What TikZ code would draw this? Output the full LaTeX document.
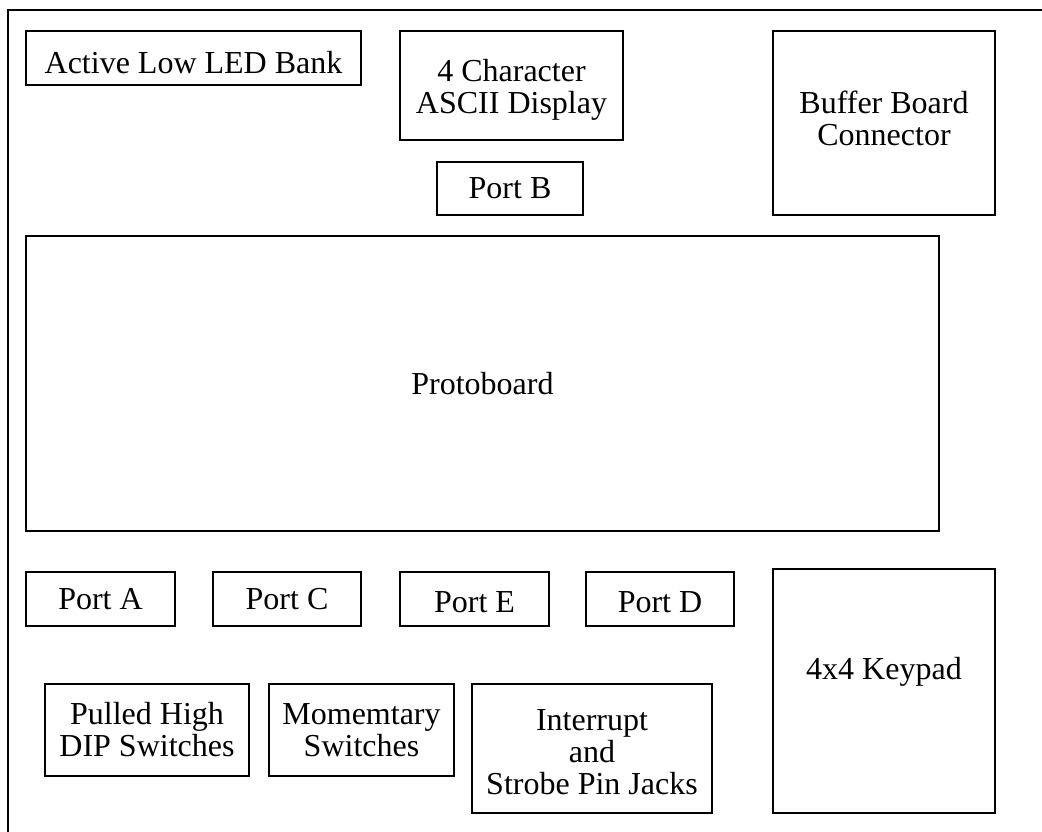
\documentclass[tikz,border=0pt]{standalone}
\usepackage{fontspec}
\setmainfont{Liberation Serif}
\begin{document}
\begin{tikzpicture}[x=1pt,y=-1pt,
  box/.style={draw, line width=2pt, rectangle, inner sep=0pt},
  lbl/.style={inner sep=0pt, align=center, font=\fontsize{32}{32}\selectfont}]
\useasboundingbox (0,0) rectangle (1042,831);
\clip (0,0) rectangle (1042,831);
\draw[line width=2.2pt] (8,10) rectangle (1070,860);
% boxes
\node[box, minimum width=335, minimum height=54] (led) at (193.5,58) {};
\node[box, minimum width=223, minimum height=109] (ascii) at (511.5,85.5) {};
\node[box, minimum width=146, minimum height=53] (portb) at (510,188.5) {};
\node[box, minimum width=222, minimum height=184] (buffer) at (884,123) {};
\node[box, minimum width=913, minimum height=295] (proto) at (482.5,383.5) {};
\node[box, minimum width=149, minimum height=54] (porta) at (100.5,599) {};
\node[box, minimum width=148, minimum height=54] (portc) at (287,599) {};
\node[box, minimum width=149, minimum height=54] (porte) at (474.5,599) {};
\node[box, minimum width=148, minimum height=54] (portd) at (660,599) {};
\node[box, minimum width=222, minimum height=244] (keypad) at (884,691) {};
\node[box, minimum width=204, minimum height=92] (dip) at (147,730) {};
\node[box, minimum width=185, minimum height=92] (mom) at (361.5,730) {};
\node[box, minimum width=240, minimum height=129] (intr) at (592,748.5) {};
% texts
\node[lbl] (ledt) at (193.5,63) {Active Low LED Bank};
\node[lbl] (asciit) at (511.5,90) {4 Character\\ASCII Display};
\node[lbl] (portbt) at (510,188.5) {Port B};
\node[lbl] (buffert) at (884,118.5) {Buffer Board\\Connector};
\node[lbl] (protot) at (482.5,383.5) {Protoboard};
\node[lbl] (portat) at (100.5,599) {Port A};
\node[lbl] (portct) at (287,599) {Port C};
\node[lbl] (portet) at (474.5,602) {Port E};
\node[lbl] (portdt) at (660,602) {Port D};
\node[lbl] (keypadt) at (884,672) {4x4 Keypad};
\node[lbl] (dipt) at (147,730) {Pulled High\\DIP Switches};
\node[lbl] (momt) at (361.5,730) {Momemtary\\Switches};
\node[lbl] (intrt) at (592,752) {Interrupt\\and\\Strobe Pin Jacks};
\end{tikzpicture}
\end{document}
